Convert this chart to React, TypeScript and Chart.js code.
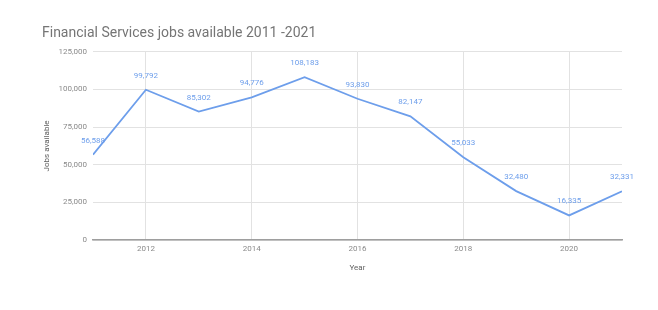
import React, { useEffect, useRef } from "react";
import { Chart, registerables } from "chart.js";

Chart.register(...registerables);

const years = [2011, 2012, 2013, 2014, 2015, 2016, 2017, 2018, 2019, 2020, 2021];
const jobs = [56588, 99792, 85302, 94776, 108183, 93830, 82147, 55033, 32480, 16335, 32331];
const xTickYears = [2012, 2014, 2016, 2018, 2020];
const titleText = "Financial Services jobs available 2011 -2021";
const yTitle = "Jobs available";
const xTitle = "Year";

const LINE = "#6d9eeb";
const LABEL = "#6d9eeb";

const dataLabels = {
  id: "dataLabels",
  afterDatasetsDraw(chart: any) {
    const ctx = chart.ctx;
    const meta = chart.getDatasetMeta(0);
    ctx.save();
    ctx.font = "8px Roboto";
    ctx.fillStyle = LABEL;
    ctx.textAlign = "center";
    ctx.textBaseline = "middle";
    meta.data.forEach((pt: any, i: number) => {
      ctx.fillText(jobs[i].toLocaleString("en-US"), pt.x, pt.y - 14);
    });
    ctx.restore();
  },
};

export default function App() {
  const ref = useRef<HTMLCanvasElement>(null);
  useEffect(() => {
    const chart = new Chart(ref.current!, {
      type: "line",
      data: {
        datasets: [
          {
            data: years.map((y, i) => ({ x: y, y: jobs[i] })),
            borderColor: LINE,
            borderWidth: 1.8,
            pointRadius: 0,
            tension: 0,
            fill: false,
          },
        ],
      },
      options: {
        animation: false,
        responsive: false,
        layout: { padding: { left: 42, right: 36, top: 25, bottom: 30 } },
        plugins: {
          legend: { display: false },
          tooltip: { enabled: false },
          title: {
            display: true,
            text: titleText,
            align: "start",
            color: "#757575",
            font: { family: "Roboto", size: 14, weight: "normal" },
            padding: { top: 0, bottom: 10 },
          },
        },
        scales: {
          x: {
            type: "linear",
            min: 2011,
            max: 2021,
            afterBuildTicks: (scale: any) => {
              scale.ticks = xTickYears.map((v) => ({ value: v }));
            },
            afterFit: (scale: any) => {
              scale.height = 40;
            },
            grid: { color: "#e2e2e2", drawTicks: false, lineWidth: 1 },
            border: { display: true, color: "#9e9e9e", width: 1.5 },
            ticks: {
              padding: 4,
              color: "#8a8a8a",
              font: { family: "Roboto", size: 8 },
              callback: (v: any) => String(v),
              maxRotation: 0,
            },
            title: {
              display: true,
              text: xTitle,
              color: "#616161",
              font: { family: "Roboto", size: 8 },
              padding: { top: 0, bottom: 7 },
            },
          },
          y: {
            min: 0,
            max: 125000,
            afterFit: (scale: any) => {
              scale.width = 51;
            },
            ticks: {
              stepSize: 25000,
              padding: 6,
              color: "#8a8a8a",
              font: { family: "Roboto", size: 8 },
              callback: (v: any) => Number(v).toLocaleString("en-US"),
            },
            grid: { color: "#e2e2e2", drawTicks: false, lineWidth: 1 },
            border: { display: false },
            title: {
              display: true,
              text: yTitle,
              color: "#616161",
              font: { family: "Roboto", size: 8 },
              padding: { top: 0, bottom: 0 },
            },
          },
        },
      },
      plugins: [dataLabels],
    } as any);
    return () => chart.destroy();
  }, []);
  return (
    <div style={{ position: "fixed", left: 0, top: 0, width: 658, height: 310, background: "#fff" }}>
      <canvas ref={ref} width={658} height={310} />
    </div>
  );
}
